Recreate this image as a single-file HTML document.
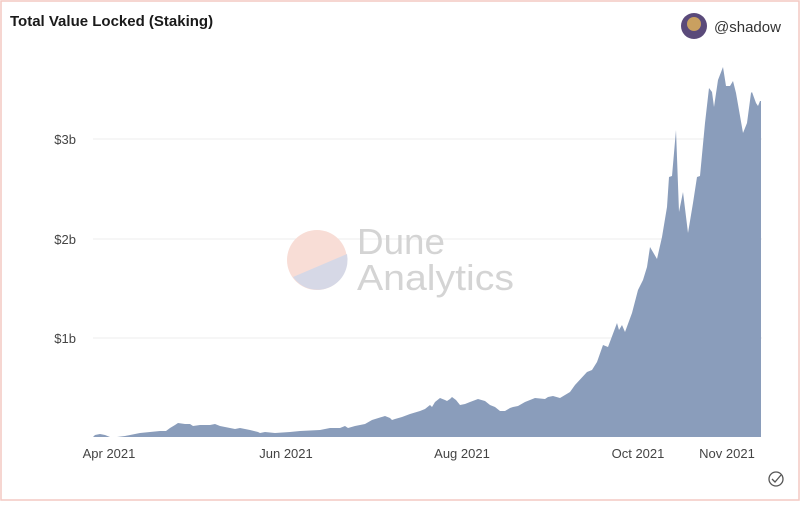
<!DOCTYPE html>
<html><head><meta charset="utf-8"><style>
html,body{margin:0;padding:0;background:#fff;}
body{width:800px;height:501px;overflow:hidden;font-family:"Liberation Sans",sans-serif;}
</style></head><body>
<svg width="800" height="501" viewBox="0 0 800 501" xmlns="http://www.w3.org/2000/svg">
<rect x="1" y="1" width="798" height="499" fill="#fff" stroke="#f3c9c2" stroke-width="1.5"/>
<text x="10" y="26" font-size="15" font-weight="bold" fill="#1a1a1a">Total Value Locked (Staking)</text>
<circle cx="694" cy="26" r="13" fill="#5a4a7a"/>
<circle cx="694" cy="24" r="7" fill="#c9a060"/>
<text x="714" y="32" font-size="15" fill="#333">@shadow</text>
<g stroke="#ececec" stroke-width="1">
<line x1="93" y1="139" x2="762" y2="139"/>
<line x1="93" y1="239" x2="762" y2="239"/>
<line x1="93" y1="338" x2="762" y2="338"/>
</g>
<g font-size="13" fill="#444" text-anchor="end">
<text x="76" y="144">$3b</text>
<text x="76" y="244">$2b</text>
<text x="76" y="343">$1b</text>
</g>
<circle cx="317" cy="260" r="30" fill="#f8ddd6"/>
<path d="M293,277 L347,254 A30,30 0 0 1 293,277 Z" fill="#d6d8e6"/>
<text x="357" y="254" font-size="36" fill="#d4d4d4" textLength="88" lengthAdjust="spacingAndGlyphs">Dune</text>
<text x="357" y="290" font-size="36" fill="#d4d4d4" textLength="157" lengthAdjust="spacingAndGlyphs">Analytics</text>
<polygon fill="#8a9dbb" points="93,437 95,435 100,434 105,435 110,437 117,437 125,436 135,434 140,433 150,432 160,431 166,431 170,428 175,425 178,423 185,424 190,424 193,426 200,425 205,425 210,425 215,424 220,426 230,428 235,429 240,428 250,430 258,432 260,433 265,432 275,433 290,432 300,431 320,430 330,428 340,428 345,426 348,428 355,426 365,424 372,420 385,416 390,418 392,420 395,419 402,417 410,414 420,411 425,409 430,405 432,407 435,402 440,398 445,400 447,401 450,399 452,397 456,400 460,405 465,404 470,402 478,399 485,401 490,405 495,407 500,411 505,411 510,408 513,407 518,406 525,402 530,400 535,398 545,399 548,397 553,396 560,398 570,392 575,385 587,372 592,370 597,362 603,345 608,347 617,323 619,330 622,325 625,332 632,313 638,290 643,280 647,267 650,247 657,259 662,237 667,207 669,177 672,176 676,130 679,212 683,192 688,233 693,203 697,177 700,176 705,123 709,88 712,92 714,107 718,80 723,67 726,86 730,86 733,81 736,93 743,133 747,123 751,93 752,92 756,103 758,106 760,101 761,101 761,437"/>
<g font-size="13" fill="#444" text-anchor="middle">
<text x="109" y="458">Apr 2021</text>
<text x="286" y="458">Jun 2021</text>
<text x="462" y="458">Aug 2021</text>
<text x="638" y="458">Oct 2021</text>
<text x="727" y="458">Nov 2021</text>
</g>
<circle cx="776" cy="479" r="7" fill="none" stroke="#555" stroke-width="1.3"/>
<path d="M772,479 l3,3 l6,-7" fill="none" stroke="#555" stroke-width="1.3"/>
</svg>
</body></html>
